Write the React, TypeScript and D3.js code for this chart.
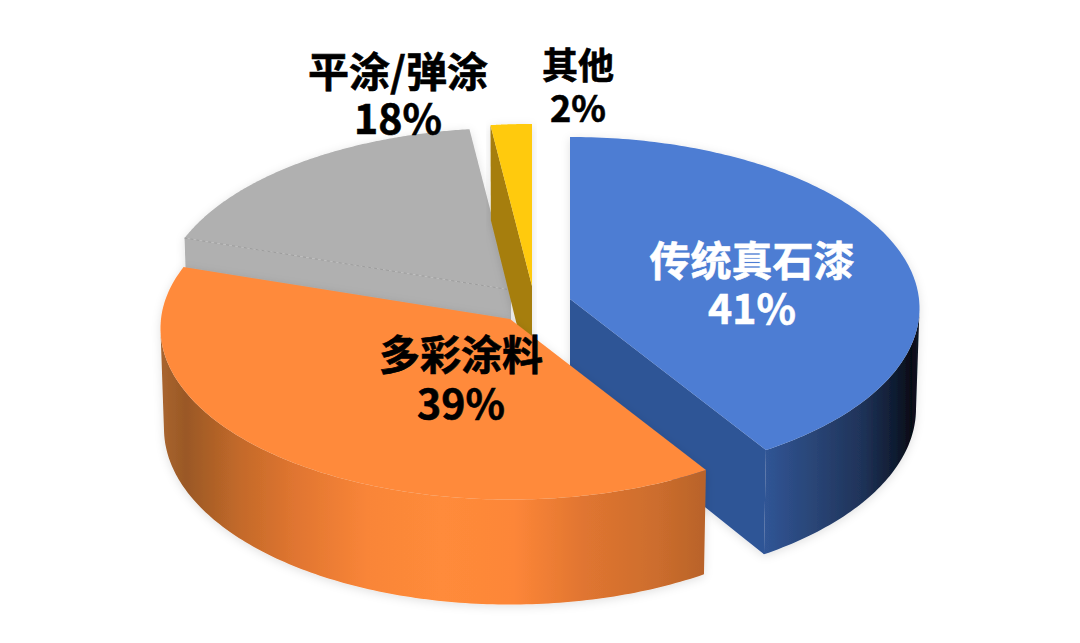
import React, { useEffect, useRef } from 'react';
import * as d3 from 'd3';

const categories = ['传统真石漆', '多彩涂料', '平涂/弹涂', '其他'];
const shares = [41, 39, 18, 2];
const shareLabels = ['41%', '39%', '18%', '2%'];

const topColors = ['#4d7dd3', '#ff8a3b', '#b0b0b0', '#ffca08'];
const faceColors = ['#2f5496', '#c0662a', '#b0b0b0', '#a67e10'];

// exploded slice apexes on the top surface
const apexes = [
  { x: 570, y: 299 },
  { x: 510, y: 319 },
  { x: 511, y: 290 },
  { x: 532, y: 286 },
];

const labelPos = [
  { x: 752, y: 276, y2: 324, size: 41, fill: '#fff' },
  { x: 461, y: 370, y2: 419, size: 41, fill: '#000' },
  { x: 398, y: 87, y2: 134, size: 41, fill: '#000' },
  { x: 578, y: 79, y2: 122, size: 36, fill: '#000' },
];

const rx = 349;
const ry = 170.8;
const persp = 0.054;

type Pt = [number, number];

function rim(apex: { x: number; y: number }, a: number, bottom: boolean): Pt {
  const u = Math.sin(a);
  const v = -Math.cos(a);
  const w = 1 - persp * v;
  const shrink = bottom ? 0.99 : 1;
  const depth = bottom ? 100 + 5 * v : 0;
  return [apex.x + (shrink * rx * u) / w, apex.y + (ry * v) / w + depth];
}

function down(apex: { x: number; y: number }): Pt {
  return [apex.x, apex.y + 100];
}

export default function App() {
  const ref = useRef<SVGSVGElement>(null);

  useEffect(() => {
    const svg = d3.select(ref.current);
    svg.selectAll('*').remove();

    const defs = svg.append('defs');

    const blueSide = defs
      .append('linearGradient')
      .attr('id', 'side-0')
      .attr('gradientUnits', 'userSpaceOnUse')
      .attr('x1', rim(apexes[0], (147.6 * Math.PI) / 180, true)[0])
      .attr('x2', apexes[0].x + rx);
    [
      [0, '#305596'],
      [0.3, '#2a4678'],
      [0.63, '#1f3359'],
      [0.86, '#0e1a2e'],
      [0.95, '#060c16'],
      [1, '#0c1526'],
    ].forEach(([o, c]) => blueSide.append('stop').attr('offset', o).attr('stop-color', c));

    const orangeSide = defs
      .append('linearGradient')
      .attr('id', 'side-1')
      .attr('gradientUnits', 'userSpaceOnUse')
      .attr('x1', apexes[1].x - rx)
      .attr('x2', rim(apexes[1], (147.6 * Math.PI) / 180, true)[0]);
    [
      [0, '#a9652f'],
      [0.046, '#9a5825'],
      [0.147, '#c46a2a'],
      [0.246, '#e07530'],
      [0.38, '#f98538'],
      [0.515, '#ff8b3a'],
      [0.65, '#fd8638'],
      [0.78, '#e07530'],
      [0.915, '#cc6d2d'],
      [1, '#b9632a'],
    ].forEach(([o, c]) => orangeSide.append('stop').attr('offset', o).attr('stop-color', c));

    const shadow = defs.append('filter').attr('id', 'soft').attr('x', '-10%').attr('y', '-10%').attr('width', '120%').attr('height', '120%');
    shadow
      .append('feDropShadow')
      .attr('dx', 0)
      .attr('dy', 2)
      .attr('stdDeviation', 5)
      .attr('flood-color', '#000')
      .attr('flood-opacity', 0.12);

    const slices = d3.pie<number>().sort(null)(shares);
    const line = d3.line();

    // back to front, so the orange slice sits over its neighbours
    const order = [2, 3, 0, 1];

    order.forEach((i) => {
      const s = slices[i];
      const apex = apexes[i];
      const angles = d3.range(0, 161).map((k) => s.startAngle + ((s.endAngle - s.startAngle) * k) / 160);
      const g = svg.append('g').attr('filter', 'url(#soft)');

      const topRim = angles.map((a) => rim(apex, a, false));
      const botRim = angles.map((a) => rim(apex, a, true));
      const startTop = topRim[0];
      const startBot = botRim[0];
      const endTop = topRim[topRim.length - 1];
      const endBot = botRim[botRim.length - 1];

      // radial faces
      const faces: Pt[][] = [];
      if (i === 0) faces.push([[apex.x, apex.y], endTop, endBot, down(apex)]);
      if (i === 2) faces.push([[apex.x, apex.y], startTop, startBot, down(apex)]);
      if (i === 3) faces.push([[apex.x, apex.y], startTop, startBot, down(apex)]);
      faces.forEach((f) => {
        g.append('path')
          .attr('d', line(f) + 'Z')
          .attr('fill', faceColors[i]);
      });

      // outer wall, only the part that faces the viewer
      if (i < 2) {
        const front = angles.filter((a) => -Math.cos(a) >= persp);
        const wallTop = front.map((a) => rim(apex, a, false));
        const wallBot = front.map((a) => rim(apex, a, true));
        g.append('path')
          .attr('d', line([...wallTop, ...[...wallBot].reverse()]) + 'Z')
          .attr('fill', `url(#side-${i})`);
      }

      // top surface
      g.append('path')
        .attr('d', line([[apex.x, apex.y], ...topRim]) + 'Z')
        .attr('fill', topColors[i]);

      // faint seam along the grey slice
      if (i === 2) {
        g.append('path')
          .attr('d', line([startTop, [apex.x, apex.y]]))
          .attr('fill', 'none')
          .attr('stroke', '#9c9c9c')
          .attr('stroke-width', 1)
          .attr('stroke-dasharray', '3 3');
      }
    });

    const labels = svg
      .selectAll('text.label')
      .data(categories)
      .enter()
      .append('text')
      .attr('class', 'label')
      .attr('text-anchor', 'middle')
      .attr('font-family', '"Noto Sans CJK SC", "Noto Sans", sans-serif')
      .attr('font-weight', 700)
      .attr('font-size', (_, i) => labelPos[i].size)
      .attr('fill', (_, i) => labelPos[i].fill)
      .attr('stroke', (_, i) => labelPos[i].fill)
      .attr('stroke-width', 0.6);

    labels
      .append('tspan')
      .attr('x', (_, i) => labelPos[i].x)
      .attr('y', (_, i) => labelPos[i].y)
      .text((d) => d);

    labels
      .append('tspan')
      .attr('x', (_, i) => labelPos[i].x)
      .attr('y', (_, i) => labelPos[i].y2)
      .text((_, i) => shareLabels[i]);
  }, []);

  return (
    <svg
      ref={ref}
      width={1080}
      height={643}
      style={{ position: 'absolute', left: 0, top: 0, background: '#fff' }}
    />
  );
}
